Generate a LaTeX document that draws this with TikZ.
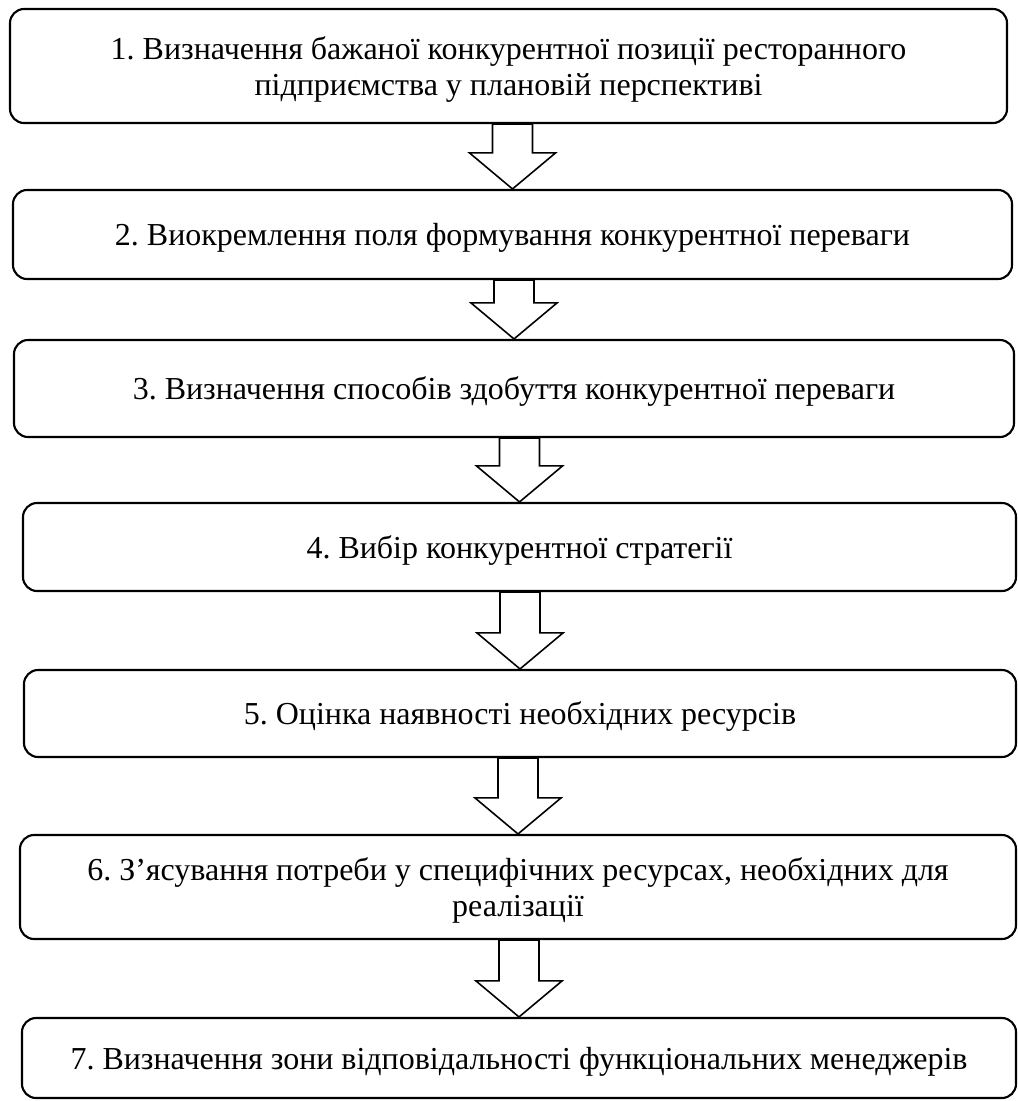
\documentclass[tikz,border=0pt]{standalone}
\usepackage{fontspec}
\setmainfont{Liberation Serif}
\usetikzlibrary{calc}
\frenchspacing
\begin{document}
\begin{tikzpicture}[stage/.style={draw,line width=1.2pt,rounded corners=8pt,align=center,inner sep=0pt,text depth=0pt,font=\fontsize{18.2}{20.5}\selectfont}]
\pgfmathsetmacro{\sw}{0.4}
\pgfmathsetmacro{\hw}{0.86}
\pgfmathsetmacro{\hl}{0.72}
\useasboundingbox(0,0)rectangle(20.36,-22.02);
\node[stage,minimum width=19.94cm,minimum height=2.28cm](s1)at(10.17,-1.32){1. Визначення бажаної конкурентної позиції ресторанного\\підприємства у плановій перспективі};
\node[stage,minimum width=19.98cm,minimum height=1.78cm](s2)at(10.25,-4.69){2. Виокремлення поля формування конкурентної переваги};
\node[stage,minimum width=20cm,minimum height=1.94cm](s3)at(10.28,-7.77){3. Визначення способів здобуття конкурентної переваги};
\node[stage,minimum width=19.86cm,minimum height=1.76cm](s4)at(10.39,-10.94){4. Вибір конкурентної стратегії};
\node[stage,minimum width=19.84cm,minimum height=1.74cm](s5)at(10.4,-14.27){5. Оцінка наявності необхідних ресурсів};
\node[stage,minimum width=19.92cm,minimum height=2.08cm](s6)at(10.36,-17.74){6. З’ясування потреби у специфічних ресурсах, необхідних для\\реалізації};
\node[stage,minimum width=19.88cm,minimum height=1.6cm](s7)at(10.38,-21.16){7. Визначення зони відповідальності функціональних менеджерів};
\foreach \a/\b in {s1/s2,s2/s3,s3/s4,s4/s5,s5/s6,s6/s7}
\draw[line width=0.9pt]($(\a.south -| \b.north)+(-\sw,0)$)--($(\b.north)+(-\sw,\hl)$)--++(\sw-\hw,0)--(\b.north)--($(\b.north)+(\hw,\hl)$)--++(\sw-\hw,0)--($(\a.south -| \b.north)+(\sw,0)$)--cycle;
\end{tikzpicture}
\end{document}
